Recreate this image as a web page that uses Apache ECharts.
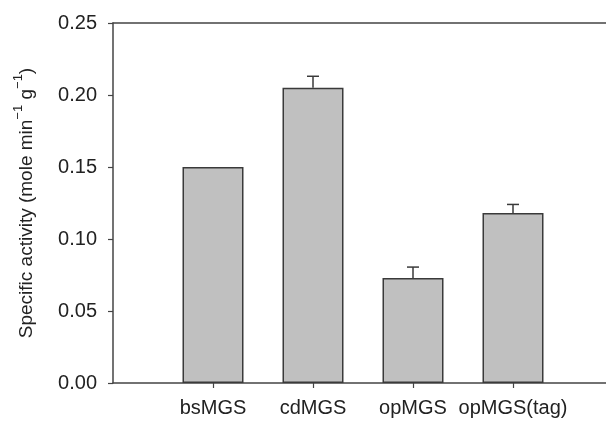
<!DOCTYPE html>
<html>
<head>
    <meta http-equiv="Content-Type" content="text/html; charset=utf-8" />
    <title>Specific activity</title>
    <style type="text/css">
    body, html {
        width: 100%;
        height: 100%;
        margin: 0;
        overflow: hidden;
        background: #fff;
    }
    #container {
        width: 606px;
        height: 421px;
    }
    </style>
</head>
<body>
    <div id="container"></div>
</body>
<script src="https://cdn.jsdelivr.net/npm/echarts@6/dist/echarts.min.js"></script>
<script>
var categories = ['bsMGS', 'cdMGS', 'opMGS', 'opMGS(tag)'];
var activity = [0.150, 0.205, 0.073, 0.118];
var errors = [0, 0.008, 0.0075, 0.006];
var yTicks = [0, 0.05, 0.10, 0.15, 0.20, 0.25];

// empty slot at each end so the bars sit where the original axis puts them
var axisData = [''].concat(categories, ['']);
var barData = [null].concat(activity, [null]);
var errData = activity.map(function (v, i) { return [i + 1, v, errors[i]]; })
    .filter(function (d) { return d[2] > 0; });

var axisColor = '#444';
var textColor = '#222';
var font = 'Liberation Sans, Arial, sans-serif';

var myChart = echarts.init(document.getElementById('container'));

var option = {
    animation: false,
    grid: { left: 113, top: 23, width: 500, height: 360, outerBoundsMode: 'none' },
    xAxis: [{
        type: 'category',
        data: axisData,
        boundaryGap: false,
        axisLine: { lineStyle: { color: axisColor, width: 1.5 } },
        axisTick: {
            length: 5,
            lineStyle: { color: axisColor, width: 1.2 },
            interval: function (i, v) { return v !== ''; }
        },
        axisLabel: { color: textColor, fontSize: 20, fontFamily: font, margin: 15, interval: 0 },
        splitLine: { show: false }
    }, {
        type: 'category',
        position: 'top',
        data: axisData,
        boundaryGap: false,
        axisLine: { lineStyle: { color: axisColor, width: 1.5 } },
        axisTick: { show: false },
        axisLabel: { show: false }
    }],
    yAxis: {
        type: 'value',
        min: yTicks[0],
        max: yTicks[yTicks.length - 1],
        interval: 0.05,
        name: '{n|Specific activity (mole min}{s|\u22121}{n| g}{s|\u22121}{n|)}',
        nameLocation: 'middle',
        nameGap: 77,
        nameTextStyle: {
            rich: {
                n: { color: textColor, fontSize: 19, fontFamily: font, lineHeight: 24, verticalAlign: 'bottom' },
                s: { color: textColor, fontSize: 13, fontFamily: font, lineHeight: 24, verticalAlign: 'top' }
            }
        },
        axisLine: { show: true, lineStyle: { color: axisColor, width: 1.5 } },
        axisTick: { show: true, length: 5, lineStyle: { color: axisColor, width: 1.2 } },
        axisLabel: {
            color: textColor, fontSize: 20, fontFamily: font, margin: 16,
            formatter: function (v) { return v.toFixed(2); }
        },
        splitLine: { show: false }
    },
    series: [{
        type: 'bar',
        data: barData,
        barWidth: 61,
        itemStyle: { color: '#c0c0c0', borderColor: '#3a3a3a', borderWidth: 1.5 }
    }, {
        type: 'custom',
        data: errData,
        z: 1,
        renderItem: function (params, api) {
            var top = api.coord([api.value(0), api.value(1) + api.value(2)]);
            var base = api.coord([api.value(0), api.value(1)]);
            var style = { stroke: '#3a3a3a', lineWidth: 1.5 };
            return {
                type: 'group',
                children: [{
                    type: 'line',
                    shape: { x1: base[0], y1: base[1], x2: top[0], y2: top[1] },
                    style: style
                }, {
                    type: 'line',
                    shape: { x1: top[0] - 6, y1: top[1], x2: top[0] + 6, y2: top[1] },
                    style: style
                }]
            };
        }
    }]
};

myChart.setOption(option);
</script>
</html>
